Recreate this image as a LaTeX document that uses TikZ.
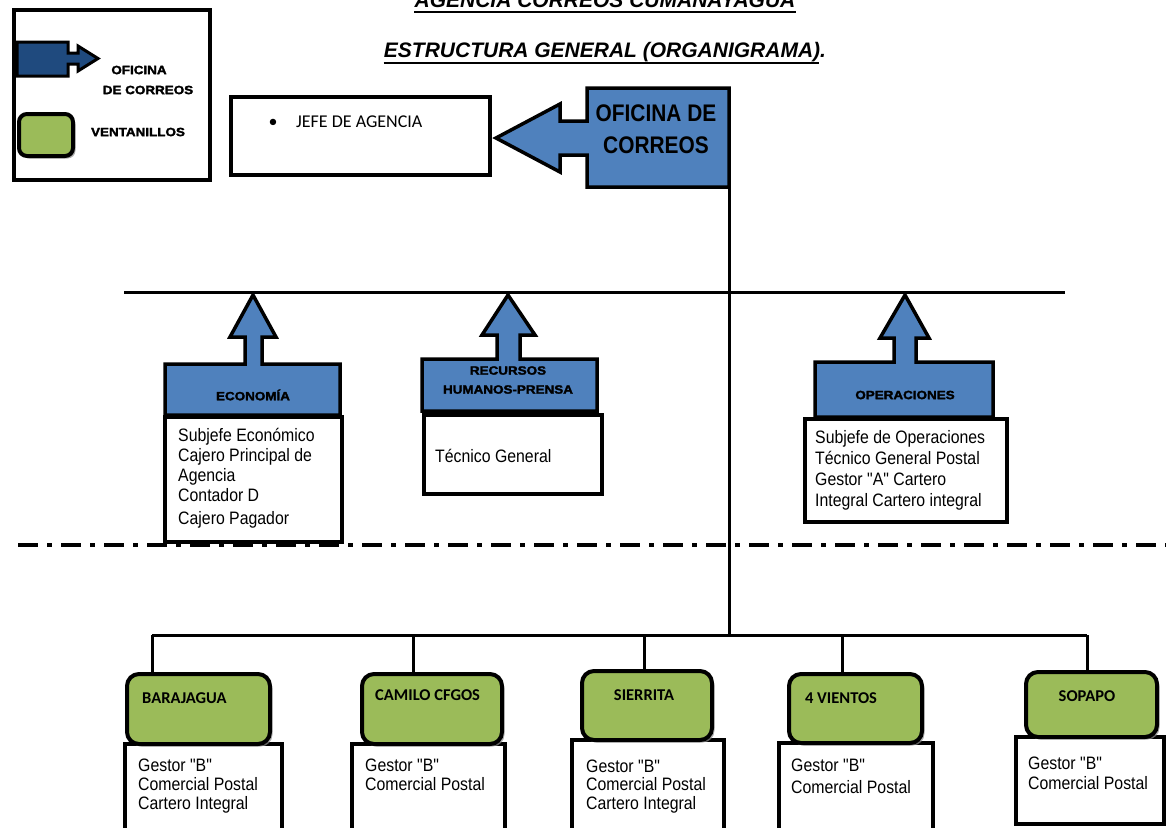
\documentclass[tikz,border=0pt]{standalone}
\usepackage{fontspec}
\setmainfont{Liberation Sans}
\newfontfamily\bodyf[FakeStretch=0.88]{Liberation Sans}
\newfontfamily\headf[FakeStretch=0.87]{Liberation Sans}
\newfontfamily\blackf[FakeStretch=1.12,FakeBold=2.2]{Liberation Sans}
\newfontfamily\calib{Carlito}
\usetikzlibrary{shadows}

\definecolor{unitblue}{HTML}{4F81BD}
\definecolor{legblue}{HTML}{1F4A7E}
\definecolor{ventgreen}{HTML}{9BBB59}

\tikzset{
  frame/.style={draw=black, line width=3.5pt, fill=white},
  unit/.style={draw=black, line width=3.5pt, fill=unitblue, line join=miter},
  vent/.style={draw=black, line width=4pt, fill=ventgreen, rounded corners=12pt,
    drop shadow={shadow xshift=2.5pt, shadow yshift=-2.5pt, fill=black!45, opacity=.7}},
  wire/.style={draw=black, line width=3pt},
  boxnode/.style={inner sep=0pt, anchor=north west},
  body/.style={inner sep=0pt, anchor=north west, align=left,
    font=\bodyf\fontsize{18}{20}\selectfont},
  tag/.style={inner sep=0pt, font=\blackf\bfseries\fontsize{12}{14}\selectfont},
  venttag/.style={inner sep=0pt, font=\calib\bfseries\fontsize{16.5}{18}\selectfont},
  title/.style={inner sep=0pt, anchor=base, font=\bfseries\itshape\fontsize{21}{24}\selectfont},
}

\begin{document}
\begin{tikzpicture}[x=1pt, y=-1pt]
\useasboundingbox (0,0) rectangle (1166,827);

% ---- titles
\node[title] (t1) at (605,7) {AGENCIA CORREOS CUMANAYAGUA};
\draw[line width=2pt] ([yshift=-4.5pt]t1.base west) -- ([yshift=-4.5pt]t1.base east);
\node[title] (t2) at (605,57.5) {ESTRUCTURA GENERAL (ORGANIGRAMA).};
\draw[line width=2pt] ([yshift=-5pt]t2.base west) -- ([yshift=-5pt,xshift=-7pt]t2.base east);

% ---- legend
\node[boxnode, frame, minimum width=196pt, minimum height=170pt] (legend) at (12,8) {};
\draw[line width=3pt, fill=legblue, line join=miter]
  (17,42) -- (68,42) -- (68,53) -- (78,53) -- (78,46) -- (98,58.5) -- (78,71)
  -- (78,64) -- (68,64) -- (68,76) -- (17,76) -- cycle;
\node[boxnode, vent, rounded corners=8pt, minimum width=54pt, minimum height=42pt] (legvent) at (17,112) {};
\node[tag] (legof1) at (139,70) {OFICINA};
\node[tag] (legof2) at (148,90) {DE CORREOS};
\node[tag] (legve) at (138,132) {VENTANILLOS};

% ---- head of agency
\node[boxnode, frame, minimum width=259pt, minimum height=78pt] (jefe) at (229,95) {};
\node[inner sep=0pt, anchor=base, font=\calib\fontsize{18}{20}\selectfont] (bul) at (273,127) {\textbullet};
\node[inner sep=0pt, anchor=base west, font=\calib\fontsize{18}{20}\selectfont] (jefetxt) at (296,127) {JEFE DE AGENCIA};

% ---- post office callout pointing left
\draw[unit] (587,88) -- (729,88) -- (729,187) -- (587,187) -- (587,155) -- (560,155)
  -- (560,172) -- (496,138) -- (560,104) -- (560,121) -- (587,121) -- cycle;
\node[boxnode, minimum width=142pt, minimum height=99pt] (oficina) at (587,88) {};
\node[inner sep=0pt, anchor=north, align=center,
  font=\headf\bfseries\fontsize{24}{32}\selectfont] (oftxt) at (656,104.4) {OFICINA DE\\CORREOS};

% ---- buses
\coordinate (busL) at (124,292);
\coordinate (busR) at (1065,292);
\draw[wire] (busL) -- (busR);
\coordinate (lowL) at (152,635);
\coordinate (lowR) at (1087,635);
\draw[wire] (oficina.south east) -- (oficina.south east |- lowL);
\draw[wire] (lowL) -- (lowR);

% ---- economy
\node[boxnode, frame, minimum width=177pt, minimum height=125pt] (ecobox) at (163,415) {};
\draw[unit] (165,415) -- (165,364) -- (245,364) -- (245,337) -- (230,337) -- (253,295)
  -- (276,337) -- (262,337) -- (262,364) -- (340,364) -- (340,415) -- cycle;
\node[tag] (eco) at (253,395) {ECONOMÍA};
\node[body] (ecotxt) at (178,428.5) {Subjefe Económico\\Cajero Principal de\\Agencia\\Contador D\\[3pt]Cajero Pagador};

% ---- human resources
\node[boxnode, frame, minimum width=178pt, minimum height=79pt] (rhbox) at (422,413) {};
\draw[unit] (422,411) -- (422,359) -- (497,359) -- (497,335) -- (482,335) -- (508,295)
  -- (535,335) -- (520,335) -- (520,359) -- (597,359) -- (597,411) -- cycle;
\node[tag, align=center, font=\blackf\bfseries\fontsize{12}{19}\selectfont] (rh) at (508,380) {RECURSOS\\HUMANOS-PRENSA};
\node[inner sep=0pt, anchor=west, font=\bodyf\fontsize{18}{20}\selectfont] (rhtxt) at (435,456) {Técnico General};

% ---- operations
\node[boxnode, frame, minimum width=202pt, minimum height=103pt] (opbox) at (803,417) {};
\draw[unit] (815,417) -- (815,362) -- (894,362) -- (894,338) -- (880,338) -- (905,295)
  -- (929,338) -- (916,338) -- (916,362) -- (993,362) -- (993,417) -- cycle;
\node[tag] (op) at (905,395) {OPERACIONES};
\node[body, font=\bodyf\fontsize{18}{21}\selectfont] (optxt) at (815,430.5) {Subjefe de Operaciones\\Técnico General Postal\\Gestor "A" Cartero\\Integral Cartero integral};

% ---- dash-dot divider
\coordinate (divL) at (18,545);
\coordinate (divR) at (1166,545);
\draw[line width=4pt, dash pattern=on 20pt off 9pt on 5pt off 9pt] (divL) -- (divR);

% ---- service windows: detail boxes
\node[boxnode, frame, minimum width=157pt, minimum height=100pt] (barw) at (123,742) {};
\node[boxnode, frame, minimum width=153pt, minimum height=100pt] (camw) at (350,742) {};
\node[boxnode, frame, minimum width=152pt, minimum height=100pt] (siew) at (570,738) {};
\node[boxnode, frame, minimum width=154pt, minimum height=100pt] (view) at (777,741) {};
\node[boxnode, frame, minimum width=148pt, minimum height=87pt] (sopw) at (1014,735) {};

% ---- service windows: green heads
\node[boxnode, vent, minimum width=143pt, minimum height=70pt] (bar) at (125,672) {};
\node[boxnode, vent, minimum width=140pt, minimum height=70pt] (cam) at (360,672) {};
\node[boxnode, vent, minimum width=130pt, minimum height=69pt] (sie) at (580,669) {};
\node[boxnode, vent, minimum width=133pt, minimum height=69pt] (vie) at (787,672) {};
\node[boxnode, vent, minimum width=131pt, minimum height=65pt] (sop) at (1024,670) {};

\node[venttag, anchor=west] (bart) at (142,698) {BARAJAGUA};
\node[venttag, anchor=west] (camt) at (375,695) {CAMILO CFGOS};
\node[venttag] (siet) at (644,695) {SIERRITA};
\node[venttag] (viet) at (841,698) {4 VIENTOS};
\node[venttag] (sopt) at (1087,696) {SOPAPO};

% ---- drops from the lower bus
\coordinate (dBar) at (152,635);
\coordinate (dCam) at (413,635);
\coordinate (dSie) at (644,635);
\coordinate (dVie) at (842,635);
\coordinate (dSop) at (1087,635);
\draw[wire] (dBar) -- (dBar |- bar.north);
\draw[wire] (dCam) -- (dCam |- cam.north);
\draw[wire] (dSie) -- (dSie |- sie.north);
\draw[wire] (dVie) -- (dVie |- vie.north);
\draw[wire] (dSop) -- (dSop |- sop.north);

% ---- service windows: staff
\node[body, font=\bodyf\fontsize{18}{19}\selectfont] (bartx) at (138,758.5) {Gestor "B"\\Comercial Postal\\Cartero Integral};
\node[body, font=\bodyf\fontsize{18}{19}\selectfont] (camtx) at (365,758.5) {Gestor "B"\\Comercial Postal};
\node[body, font=\bodyf\fontsize{18}{18.5}\selectfont] (sietx) at (586,759.5) {Gestor "B"\\Comercial Postal\\Cartero Integral};
\node[body, font=\bodyf\fontsize{18}{22}\selectfont] (vietx) at (791,758.5) {Gestor "B"\\Comercial Postal};
\node[body, font=\bodyf\fontsize{18}{20}\selectfont] (soptx) at (1028,756.5) {Gestor "B"\\Comercial Postal};

\end{tikzpicture}
\end{document}
